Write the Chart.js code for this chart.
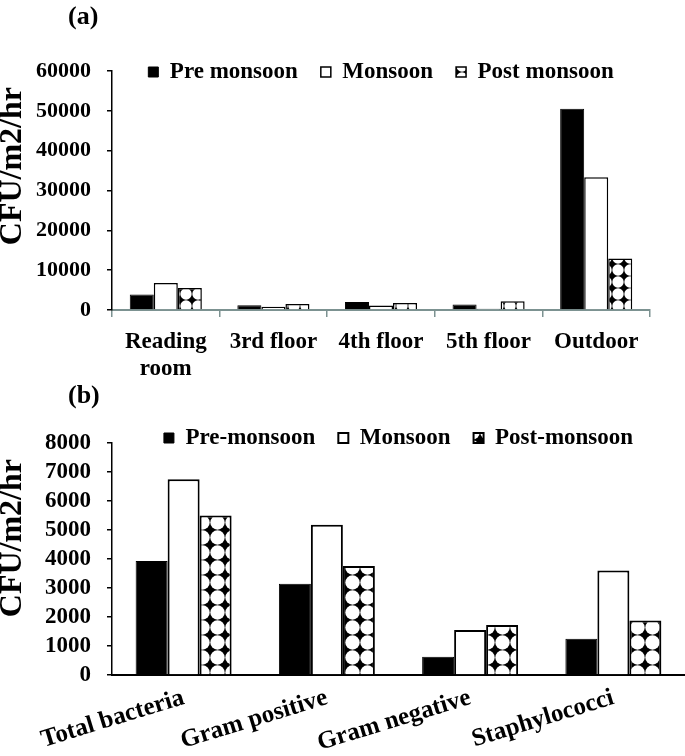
<!DOCTYPE html>
<html>
<head>
<meta charset="utf-8">
<title>CFU per m2 per hr by season</title>
<script src="https://cdn.jsdelivr.net/npm/chart.js@4.4.0/dist/chart.umd.min.js"></script>
<style>
  body { margin: 0; background: #fff; }
  #wrap { position: relative; width: 685px; height: 756px; }
  canvas { position: absolute; left: 0; }
  .tag { position: absolute; left: 68px; font: bold 26px 'Liberation Serif', serif; color: #000; }
</style>
</head>
<body>
<div id="wrap">
  <canvas id="chartA" width="685" height="376" style="top:0"></canvas>
  <canvas id="chartB" width="685" height="376" style="top:380px"></canvas>
  <div class="tag" style="top:1px">(a)</div>
  <div class="tag" style="top:380px">(b)</div>
</div>
<script>
// (a) sampling sites
const siteLabels = [['Reading', 'room'], '3rd floor', '4th floor', '5th floor', 'Outdoor'];
const preA  = [3900, 1200, 2000, 1400, 50500];
const monA  = [6750, 800, 1100, 300, 33300];
const postA = [5500, 1500, 1750, 2200, 12900];
const yTicksA = [0, 10000, 20000, 30000, 40000, 50000, 60000];

// (b) bacterial groups
const groupLabels = ['Total bacteria', 'Gram positive', 'Gram negative', 'Staphylococci'];
const preB  = [3930, 3150, 630, 1250];
const monB  = [6750, 5180, 1550, 3600];
const postB = [5500, 3760, 1720, 1880];
const yTicksB = [0, 1000, 2000, 3000, 4000, 5000, 6000, 7000, 8000];

const SERIF = "'Liberation Serif', 'Times New Roman', serif";
const axisGray = '#7c9291';

function makePattern(size) {
    const c = document.createElement('canvas');
    c.width = size; c.height = size;
    const g = c.getContext('2d');
    g.fillStyle = '#000';
    g.fillRect(0, 0, size, size);
    g.fillStyle = '#fff';
    g.beginPath();
    g.arc(size / 2, size / 2, size / 2 - 0.3, 0, Math.PI * 2);
    g.fill();
    return g.createPattern(c, 'repeat');
}

// legend sits inside the plot area, laid out as one row, level with the top tick
const legendShift = {
    id: 'legendShift',
    afterInit(chart) {
        if (chart.legend) chart.legend.isHorizontal = () => true;
    },
    beforeDraw(chart, args, opts) {
        const lg = chart.legend;
        if (!lg) return;
        const area = chart.chartArea;
        const lab = chart.options.plugins.legend.labels;
        const top = area.top + opts.offset - lab.padding - lab.font.size / 2;
        const h = lg.bottom - lg.top;
        lg.top = top;
        lg.bottom = top + h;
        lg.left = area.left;
        lg.right = area.right;
        lg.width = area.right - area.left;
    }
};

function legendOpts() {
    return {
        position: 'chartArea',
        align: 'center',
        labels: {
            boxWidth: 10, boxHeight: 10, padding: 23, color: '#000',
            font: { family: SERIF, size: 23, weight: 'bold' }
        }
    };
}

function yAxis(max, step, tickList, fontSize, spaces) {
    return {
        min: 0, max: max,
        afterBuildTicks: s => { s.ticks = tickList.map(v => ({ value: v })); },
        afterFit: s => { s.width = 112; },
        ticks: {
            stepSize: step, color: '#000', padding: 16, autoSkip: false,
            callback: v => String(v),
            font: { family: SERIF, size: fontSize, weight: 'bold' }
        },
        grid: { drawOnChartArea: false, drawTicks: true, tickLength: 5, color: '#000', lineWidth: 1.5 },
        border: { color: '#000', width: 1.5 },
        title: {
            display: true, text: 'CFU/m2/hr' + spaces, align: 'end', color: '#000',
            padding: { top: -6, bottom: 0 },
            font: { family: SERIF, size: 32, weight: 'bold' }
        }
    };
}

new Chart(document.getElementById('chartA'), {
    type: 'bar',
    data: {
        labels: siteLabels,
        datasets: [
            { label: 'Pre monsoon', data: preA, backgroundColor: '#000', borderColor: '#000', borderWidth: 1 },
            { label: 'Monsoon', data: monA, backgroundColor: '#fff', borderColor: '#000', borderWidth: 1.5 },
            { label: 'Post monsoon', data: postA, backgroundColor: makePattern(12), borderColor: '#000', borderWidth: 1.5 }
        ]
    },
    options: {
        responsive: false,
        animation: false,
        layout: { padding: { top: 71, right: 35, bottom: 0, left: 0 } },
        datasets: { bar: { categoryPercentage: 0.67, barPercentage: 1 } },
        plugins: {
            legend: legendOpts(),
            tooltip: { enabled: false },
            legendShift: { offset: 1 }
        },
        scales: {
            x: {
                afterFit: s => { s.height = 66; },
                ticks: { color: '#000', padding: 11, maxRotation: 0, autoSkip: false, font: { family: SERIF, size: 23, weight: 'bold' } },
                grid: { drawOnChartArea: false, drawTicks: true, tickLength: 7, color: axisGray, lineWidth: 1.5 },
                border: { color: axisGray, width: 2 }
            },
            y: yAxis(60000, 10000, yTicksA, 22, '  ')
        }
    },
    plugins: [legendShift]
});

new Chart(document.getElementById('chartB'), {
    type: 'bar',
    data: {
        labels: groupLabels,
        datasets: [
            { label: 'Pre-monsoon', data: preB, backgroundColor: '#000', borderColor: '#000', borderWidth: 1 },
            { label: 'Monsoon', data: monB, backgroundColor: '#fff', borderColor: '#000', borderWidth: 2 },
            { label: 'Post-monsoon', data: postB, backgroundColor: makePattern(15), borderColor: '#000', borderWidth: 2 }
        ]
    },
    options: {
        responsive: false,
        animation: false,
        layout: { padding: { top: 63, right: 0, bottom: 0, left: 0 } },
        datasets: { bar: { categoryPercentage: 0.67, barPercentage: 1 } },
        plugins: {
            legend: legendOpts(),
            tooltip: { enabled: false },
            legendShift: { offset: -5 }
        },
        scales: {
            x: {
                afterFit: s => { s.height = 81; },
                ticks: { color: '#000', padding: 8, minRotation: 17, maxRotation: 17, autoSkip: false, font: { family: SERIF, size: 25, weight: 'bold' } },
                grid: { display: false, drawTicks: false },
                border: { color: '#000', width: 2 }
            },
            y: yAxis(8000, 1000, yTicksB, 23, '  ')
        }
    },
    plugins: [legendShift]
});
</script>
</body>
</html>
